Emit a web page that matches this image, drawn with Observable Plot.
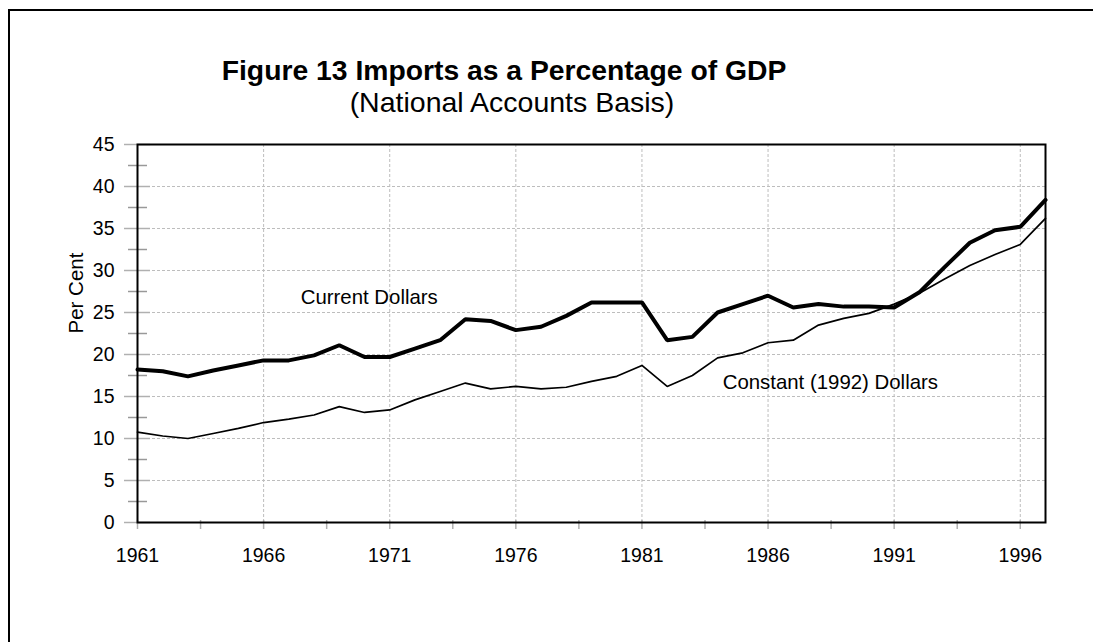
<!DOCTYPE html>
<html>
<head>
<meta charset="utf-8">
<script src="https://cdn.jsdelivr.net/npm/d3@7"></script>
<script src="https://cdn.jsdelivr.net/npm/@observablehq/plot@0.6"></script>
<style>
  html, body { margin: 0; padding: 0; background: #fff; }
  #wrap { position: relative; width: 1093px; height: 642px; overflow: hidden; background: #fff;
          font-family: "Liberation Sans", Arial, sans-serif; color: #000; }
  #frame { position: absolute; left: 8px; top: 9px; width: 1300px; height: 900px;
           border: 2px solid #000; box-sizing: border-box; }
  .ttl { position: absolute; white-space: nowrap; transform: translateX(-50%); line-height: 1; }
  #title { left: 504px; top: 56px; font-size: 28.3px; font-weight: bold; }
  #subtitle { left: 512px; top: 88px; font-size: 28.5px; }
  #chart { position: absolute; left: 0; top: 130px; }
</style>
</head>
<body>
<div id="wrap">
  <div id="frame"></div>
  <div id="title" class="ttl">Figure 13 Imports as a Percentage of GDP</div>
  <div id="subtitle" class="ttl">(National Accounts Basis)</div>
  <div id="chart"></div>
</div>
<script>
// ---- data ----
const years = [1961,1962,1963,1964,1965,1966,1967,1968,1969,1970,1971,1972,1973,1974,1975,1976,1977,1978,1979,1980,1981,1982,1983,1984,1985,1986,1987,1988,1989,1990,1991,1992,1993,1994,1995,1996,1997];
const currentDollars = [18.2,18.0,17.4,18.1,18.7,19.3,19.3,19.9,21.1,19.7,19.7,20.7,21.7,24.2,24.0,22.9,23.3,24.6,26.2,26.2,26.2,21.7,22.1,25.0,26.0,27.0,25.6,26.0,25.7,25.7,25.6,27.4,30.4,33.3,34.8,35.2,38.4];
const constantDollars = [10.75,10.3,10.0,10.6,11.2,11.9,12.3,12.8,13.8,13.1,13.4,14.6,15.6,16.6,15.9,16.2,15.9,16.1,16.8,17.4,18.7,16.2,17.5,19.6,20.2,21.4,21.7,23.5,24.3,24.9,26.0,27.3,29.0,30.6,31.9,33.1,36.2];
const xTickLabels = [1961,1966,1971,1976,1981,1986,1991,1996];
const xTickMarks = [1961,1963.5,1966,1968.5,1971,1973.5,1976,1978.5,1981,1983.5,1986,1988.5,1991,1993.5,1996];
const yTickLabels = [0,5,10,15,20,25,30,35,40,45];
const yMinorTicks = [2.5,7.5,12.5,17.5,22.5,27.5,32.5,37.5,42.5];
const seriesNames = ["Current Dollars", "Constant (1992) Dollars"];
const labelYears = [1967.47, 1984.2];
const labelValues = [26.8, 16.67];

const rows = [];
years.forEach((yr, i) => {
  rows.push({year: yr, value: currentDollars[i], series: seriesNames[0]});
  rows.push({year: yr, value: constantDollars[i], series: seriesNames[1]});
});
const labels = seriesNames.map((s, i) => ({series: s, year: labelYears[i], value: labelValues[i]}));

const gridColor = "#bdbdbd";
const tickColor = "#b0b0b0";

const chart = Plot.plot({
  width: 1093,
  height: 512,
  marginTop: 14,
  marginLeft: 137,
  marginRight: 48,
  marginBottom: 120,
  style: {fontFamily: "'Liberation Sans', Arial, sans-serif", fontSize: "19.5px", background: "transparent", color: "#000", overflow: "visible"},
  x: {domain: [1961, 1997], axis: null, label: null},
  y: {domain: [0, 45], axis: null, label: null},
  marks: [
    Plot.gridX(xTickLabels.slice(1), {stroke: gridColor, strokeOpacity: 1, strokeDasharray: "3,2"}),
    Plot.gridY(yTickLabels.slice(1, -1), {stroke: gridColor, strokeOpacity: 1, strokeDasharray: "3,2"}),
    // x ticks (crossing bottom axis)
    Plot.axisX(xTickMarks, {anchor: "bottom", tickSize: 9, dy: -2, text: null, label: null, stroke: tickColor, strokeWidth: 1.5}),
    Plot.axisX(xTickLabels, {anchor: "bottom", tickSize: 0, tickPadding: 26, tickFormat: d => String(d), fontSize: 19.5, fill: "#000", label: null}),
    // y ticks (crossing left axis)
    Plot.axisY(yTickLabels, {anchor: "left", tickSize: 26, dx: 13, text: null, label: null, stroke: tickColor, strokeWidth: 1.5}),
    Plot.axisY(yMinorTicks, {anchor: "left", tickSize: 19, dx: 10, text: null, label: null, stroke: "#999", strokeWidth: 1.5}),
    Plot.axisY(yTickLabels, {anchor: "left", tickSize: 0, tickPadding: 23, tickFormat: d => String(d), fontSize: 19.5, fill: "#000", label: null}),
    Plot.text(["Per Cent"], {frameAnchor: "left", rotate: -90, dx: -61, fontSize: 20.5, fill: "#000"}),
    Plot.frame({stroke: "#000", strokeWidth: 2}),
    Plot.line(rows.filter(d => d.series === seriesNames[1]), {x: "year", y: "value", stroke: "#000", strokeWidth: 1.7, strokeLinejoin: "miter"}),
    Plot.line(rows.filter(d => d.series === seriesNames[0]), {x: "year", y: "value", stroke: "#000", strokeWidth: 4, strokeLinejoin: "miter"}),
    Plot.text(labels, {x: "year", y: "value", text: "series", textAnchor: "start", fontSize: 20.4, fill: "#000"})
  ]
});
document.getElementById("chart").appendChild(chart);
</script>
</body>
</html>
